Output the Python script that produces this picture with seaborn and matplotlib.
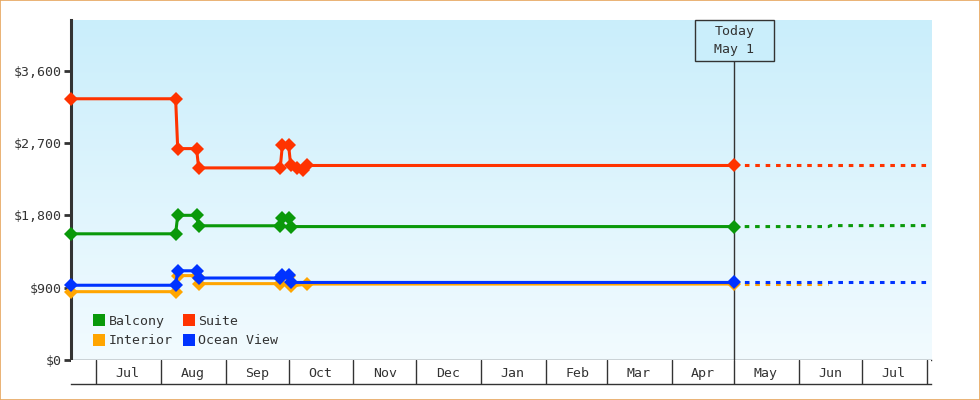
import numpy as np
import pandas as pd
import matplotlib
matplotlib.use("Agg")
import matplotlib.pyplot as plt
import matplotlib.dates as mdates
from matplotlib.colors import LinearSegmentedColormap
from matplotlib.lines import Line2D
from matplotlib.patches import Rectangle
import matplotlib.transforms as mtransforms
import seaborn as sns

# ---------------- data ----------------
cabins = ["Balcony", "Suite", "Interior", "Ocean View"]
colors = {"Balcony": "#0a990a", "Suite": "#ff3300", "Interior": "#ffa500", "Ocean View": "#0033ff"}

suite_dates = ["2023-06-19", "2023-08-08", "2023-08-09", "2023-08-18", "2023-08-19", "2023-09-27",
               "2023-09-28", "2023-10-01", "2023-10-02", "2023-10-05", "2023-10-08", "2023-10-10", "2024-05-01"]
suite_prices = [3250, 3250, 2630, 2630, 2390, 2390, 2670, 2670, 2420, 2390, 2370, 2420, 2420]

balcony_dates = ["2023-06-19", "2023-08-08", "2023-08-09", "2023-08-18", "2023-08-19", "2023-09-27",
                 "2023-09-28", "2023-10-01", "2023-10-02", "2024-05-01"]
balcony_prices = [1570, 1570, 1800, 1800, 1670, 1670, 1770, 1770, 1660, 1660]

ocean_dates = ["2023-06-19", "2023-08-08", "2023-08-09", "2023-08-18", "2023-08-19", "2023-09-27",
               "2023-09-28", "2023-10-01", "2023-10-02", "2024-05-01"]
ocean_prices = [930, 930, 1110, 1110, 1020, 1020, 1060, 1060, 965, 965]

interior_dates = ["2023-06-19", "2023-08-08", "2023-08-09", "2023-08-18", "2023-08-19", "2023-09-27",
                  "2023-09-28", "2023-10-01", "2023-10-02", "2023-10-10", "2024-05-01"]
interior_prices = [850, 850, 1050, 1050, 950, 950, 1050, 1050, 920, 945, 945]

# forecast (dashed)
balcony_fc_dates = ["2024-05-01", "2024-06-15", "2024-06-16", "2024-08-03"]
balcony_fc_prices = [1660, 1660, 1672, 1672]
suite_fc_dates = ["2024-05-01", "2024-08-03"]
suite_fc_prices = [2420, 2420]
interior_fc_dates = ["2024-05-01", "2024-06-15"]
interior_fc_prices = [945, 945]
ocean_fc_dates = ["2024-05-01", "2024-08-03"]
ocean_fc_prices = [965, 965]

today = "2024-05-01"
today_label = "Today\nMay 1"
x_start, x_end = "2023-06-19", "2024-08-03"
y_max = 4230
y_ticks = [0, 900, 1800, 2700, 3600]

# ---------------- frames ----------------
def frame(pairs):
    rows = []
    for cab, ds, ps in pairs:
        for d, p in zip(ds, ps):
            rows.append({"date": pd.Timestamp(d), "price": p, "cabin": cab})
    return pd.DataFrame(rows)

hist = frame([("Balcony", balcony_dates, balcony_prices),
              ("Suite", suite_dates, suite_prices),
              ("Interior", interior_dates, interior_prices),
              ("Ocean View", ocean_dates, ocean_prices)])
fc = frame([("Balcony", balcony_fc_dates, balcony_fc_prices),
            ("Suite", suite_fc_dates, suite_fc_prices),
            ("Interior", interior_fc_dates, interior_fc_prices),
            ("Ocean View", ocean_fc_dates, ocean_fc_prices)])

# ---------------- figure ----------------
sns.set_theme(style="white")
plt.rcParams["font.family"] = ["DejaVu Sans Mono", "DejaVu Sans"]
FS = 9.5
INK = "#333333"

fig = plt.figure(figsize=(9.8, 4.0), dpi=100)
ax = fig.add_axes([71 / 980, 40 / 400, 860 / 980, 340 / 400])
band = fig.add_axes([71 / 980, 16 / 400, 860 / 980, 24 / 400])

top_col, bot_col = "#caeefb", "#f2fbff"
cmap = LinearSegmentedColormap.from_list("bg", [top_col, bot_col])
ax.imshow(np.linspace(0, 1, 256).reshape(-1, 1), cmap=cmap, extent=[0, 1, 0, 1],
          transform=ax.transAxes, aspect="auto", zorder=0)

sns.lineplot(data=fc, x="date", y="price", hue="cabin", hue_order=cabins, palette=colors,
             estimator=None, sort=False, linewidth=2.2, linestyle=(0, (1.5, 1.9)),
             dash_capstyle="butt", legend=False, ax=ax, zorder=2)
n_fc = len(ax.lines)
sns.lineplot(data=hist, x="date", y="price", hue="cabin", hue_order=cabins, palette=colors,
             estimator=None, sort=False, linewidth=2.2, marker="D", markersize=7,
             markeredgewidth=0, legend=False, ax=ax, zorder=3)
for ln in ax.lines[n_fc:]:
    ln.set_clip_on(False)

x0, x1 = pd.Timestamp(x_start), pd.Timestamp(x_end)
ax.set_xlim(x0, x1)
ax.set_ylim(0, y_max)
ax.set_yticks(y_ticks)
ax.yaxis.set_major_formatter(matplotlib.ticker.FuncFormatter(lambda v, p: f"${v:,.0f}"))
ax.tick_params(axis="y", direction="out", length=5, width=2, color=INK, labelcolor=INK,
               labelsize=FS, pad=2, left=True)
ax.tick_params(axis="x", which="both", bottom=False, labelbottom=False)
ax.set_xlabel("")
ax.set_ylabel("")
for s in ["top", "right"]:
    ax.spines[s].set_visible(False)
ax.spines["left"].set_color(INK)
ax.spines["left"].set_linewidth(2.2)
ax.spines["bottom"].set_color(INK)
ax.spines["bottom"].set_linewidth(1)

# today marker
td = pd.Timestamp(today)
box_bottom = 1 - 40.7 / 340
ax.axvline(td, ymin=0, ymax=box_bottom, color=INK, lw=1, zorder=2)
trans = mtransforms.blended_transform_factory(ax.transData, ax.transAxes)
half = pd.Timedelta(days=19)
ax.add_patch(Rectangle((mdates.date2num(td - half), box_bottom),
                       mdates.date2num(td + half) - mdates.date2num(td - half), 1 - box_bottom,
                       transform=trans, facecolor=top_col, edgecolor=INK, lw=1, zorder=4,
                       clip_on=False))
ax.text(td, (1 + box_bottom) / 2, today_label, transform=trans, ha="center", va="center",
        fontsize=FS, color=INK, linespacing=1.45, zorder=5)

# legend
handles = [Line2D([], [], marker="s", linestyle="none", markersize=8, color=colors[c],
                  markeredgewidth=0, label=c) for c in ["Balcony", "Interior", "Suite", "Ocean View"]]
leg = ax.legend(handles=handles, ncol=2, loc="lower left", bbox_to_anchor=(0.017, 0.014),
                frameon=False, fontsize=FS, handlelength=0.9, handletextpad=0.25,
                columnspacing=0.8, labelspacing=0.5, borderaxespad=0.2)
for t in leg.get_texts():
    t.set_color(INK)

# month band
band.set_facecolor("white")
band.set_ylim(0, 1)
band.set_yticks([])
months = pd.date_range("2023-07-01", "2024-08-01", freq="MS")
mids = months[:-1] + pd.Timedelta(days=15)
band.set_xticks(months)
band.set_xticks(mids, minor=True)
band.xaxis.set_major_formatter(matplotlib.ticker.NullFormatter())
band.xaxis.set_minor_formatter(mdates.DateFormatter("%b"))
band.tick_params(axis="x", which="both", length=0, labelsize=FS, labelcolor=INK, bottom=True)
band.tick_params(axis="x", which="minor", pad=-12.2)
band.grid(axis="x", which="major", color=INK, lw=1)
for s in ["top", "left", "right"]:
    band.spines[s].set_visible(False)
band.spines["bottom"].set_color(INK)
band.spines["bottom"].set_linewidth(1)
band.set_xlim(x0, x1)

# figure border
fig.patches.append(Rectangle((0.0005, 0.001), 0.999, 0.998, transform=fig.transFigure,
                             fill=False, edgecolor="#e6a65e", lw=1.2))

fig.savefig("out.png", dpi=100)
